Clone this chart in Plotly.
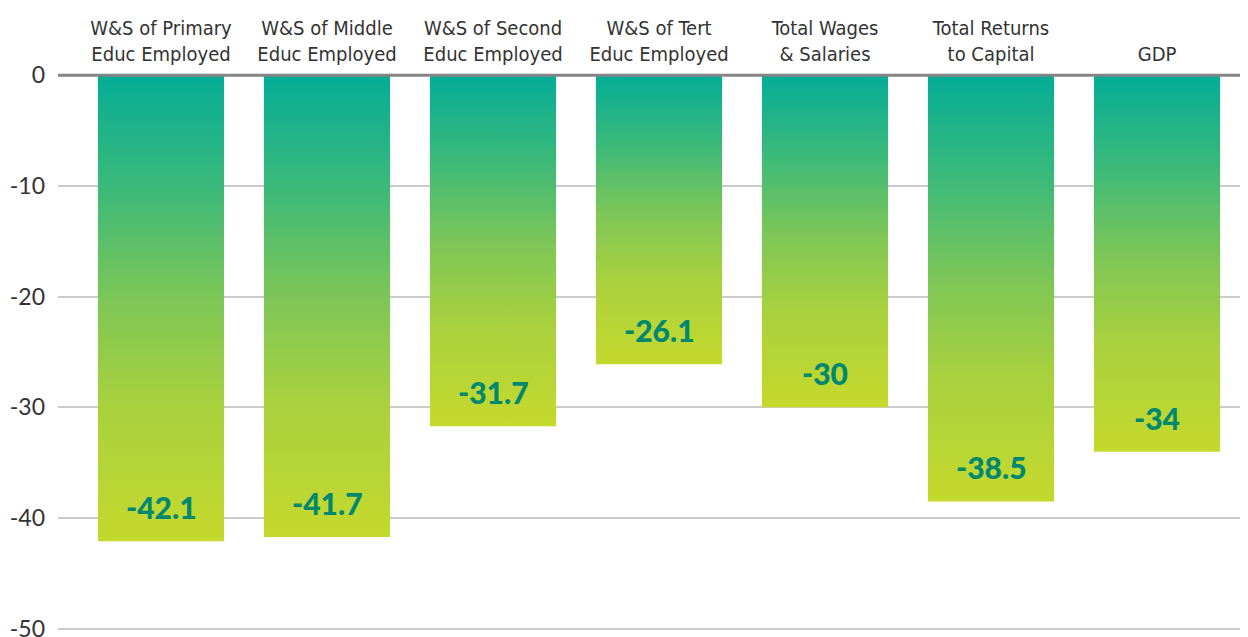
import plotly.graph_objects as go

categories = [
    "W&S of Primary<br>Educ Employed",
    "W&S of Middle<br>Educ Employed",
    "W&S of Second<br>Educ Employed",
    "W&S of Tert<br>Educ Employed",
    "Total Wages<br>& Salaries",
    "Total Returns<br>to Capital",
    "GDP",
]
values = [-42.1, -41.7, -31.7, -26.1, -30, -38.5, -34]
value_labels = ["-42.1", "-41.7", "-31.7", "-26.1", "-30", "-38.5", "-34"]
y_ticks = [0, -10, -20, -30, -40, -50]

BAR_HALF = 0.38
gradient = [
    [0.0, "#C5D92D"],
    [0.29, "#A9D13E"],
    [0.52, "#7DC657"],
    [0.76, "#3BB97A"],
    [1.0, "#04AD97"],
]

fig = go.Figure()
for i, (cat, v) in enumerate(zip(categories, values)):
    xs = [i - BAR_HALF, i + BAR_HALF, i + BAR_HALF, i - BAR_HALF, i - BAR_HALF]
    ys = [0, 0, v, v, 0]
    fig.add_trace(go.Scatter(
        x=xs, y=ys, mode="lines", fill="toself",
        line=dict(width=0, color="rgba(0,0,0,0)"),
        fillgradient=dict(type="vertical", colorscale=gradient),
        name=cat.replace("<br>", " "), showlegend=False,
        hoverinfo="skip",
    ))

for i, (v, t) in enumerate(zip(values, value_labels)):
    fig.add_annotation(
        x=i, y=v, text=t, showarrow=False, yshift=34, yanchor="middle",
        font=dict(family="Lato, Open Sans, sans-serif", size=30, color="#00876F", weight=900),
    )

fig.add_shape(type="line", xref="paper", yref="y", x0=0, x1=1, y0=0, y1=0,
              line=dict(color="#858585", width=3), layer="above")

# page has an 8px body margin, so the figure is sized to end at the window edge
fig.update_layout(
    width=1240, height=629,
    margin=dict(l=50, r=0, t=65, b=6),
    plot_bgcolor="white", paper_bgcolor="white",
    showlegend=False,
    xaxis=dict(
        side="top", range=[-0.6205, 6.548], automargin=False,
        tickmode="array", tickvals=list(range(len(categories))), ticktext=categories,
        showgrid=False, zeroline=False, showline=False, ticks="",
        tickfont=dict(family="DejaVu Sans Condensed, Liberation Sans Narrow, sans-serif", size=20, color="#333333"),
        ticklabelstandoff=7,
    ),
    yaxis=dict(
        range=[-50.2, 0.2], tickmode="array", tickvals=y_ticks, automargin=False,
        ticktext=[str(t) for t in y_ticks],
        showgrid=True, gridcolor="#CCCCCC", gridwidth=2,
        zeroline=False, showline=False, ticks="",
        tickfont=dict(family="Lato, Open Sans, sans-serif", size=23, color="#333333"),
        ticklabelstandoff=12, ticklabeloverflow="allow",
    ),
)

fig.write_html("out.html")
